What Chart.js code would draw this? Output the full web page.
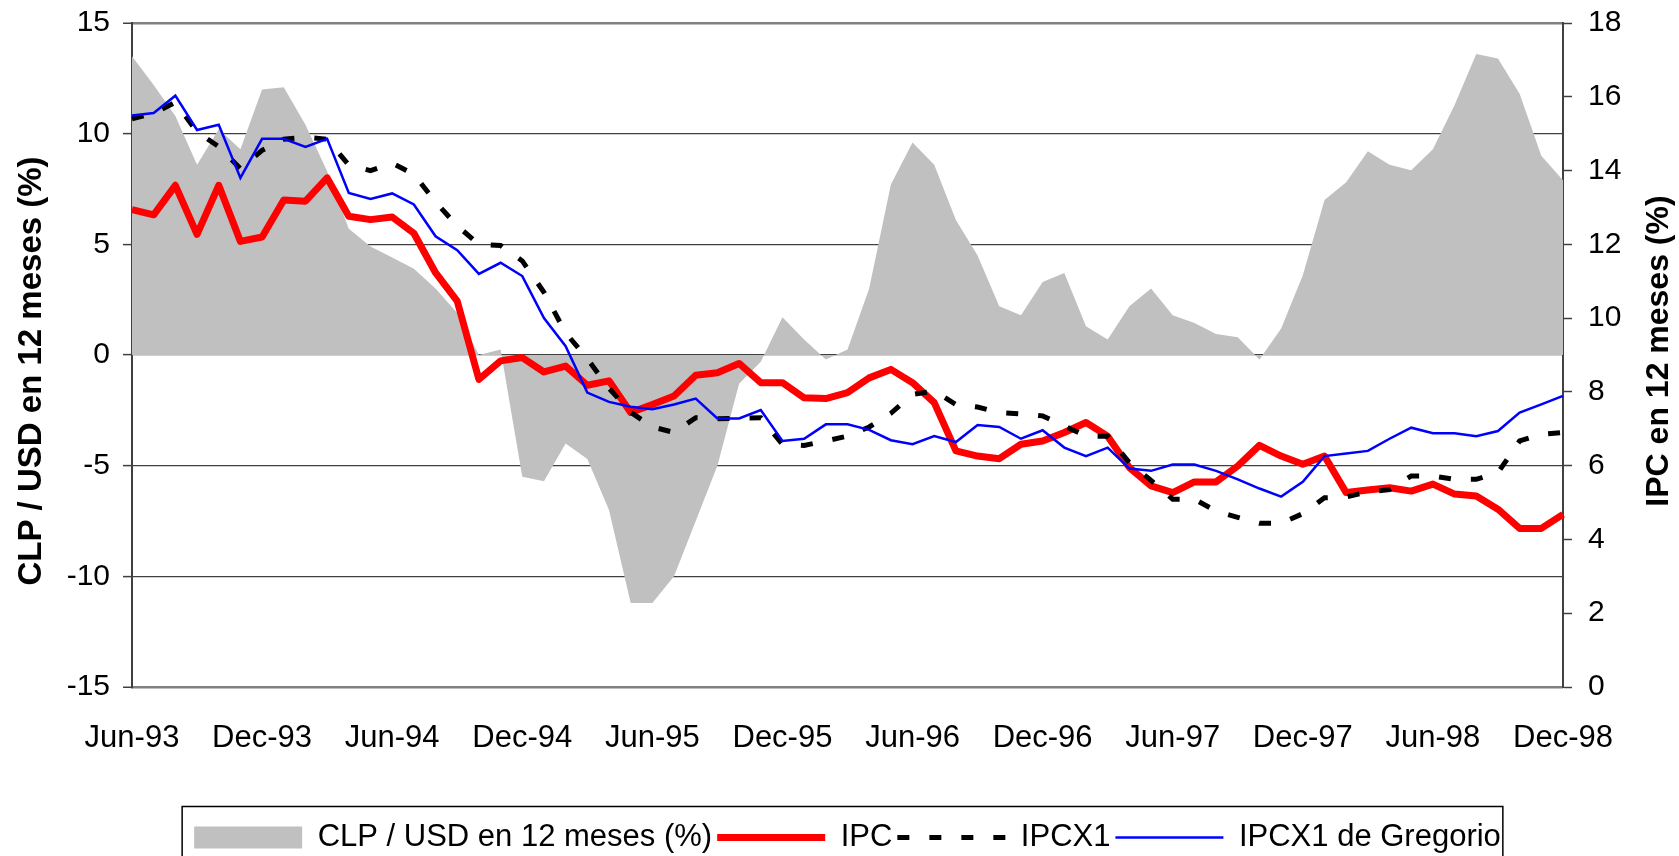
<!DOCTYPE html>
<html>
<head>
<meta charset="utf-8">
<script src="https://cdn.jsdelivr.net/npm/chart.js@4.4.1/dist/chart.umd.min.js"></script>
<style>
  html, body { margin: 0; padding: 0; background: #fff; }
</style>
</head>
<body>
<canvas id="chart" width="1679" height="856"></canvas>
<script>
// meses (eje x)
const months = [
  'Jun-93', 'Jul-93', 'Aug-93', 'Sep-93', 'Oct-93', 'Nov-93', 'Dec-93',
  'Jan-94', 'Feb-94', 'Mar-94', 'Apr-94', 'May-94', 'Jun-94', 'Jul-94', 'Aug-94', 'Sep-94', 'Oct-94', 'Nov-94', 'Dec-94',
  'Jan-95', 'Feb-95', 'Mar-95', 'Apr-95', 'May-95', 'Jun-95', 'Jul-95', 'Aug-95', 'Sep-95', 'Oct-95', 'Nov-95', 'Dec-95',
  'Jan-96', 'Feb-96', 'Mar-96', 'Apr-96', 'May-96', 'Jun-96', 'Jul-96', 'Aug-96', 'Sep-96', 'Oct-96', 'Nov-96', 'Dec-96',
  'Jan-97', 'Feb-97', 'Mar-97', 'Apr-97', 'May-97', 'Jun-97', 'Jul-97', 'Aug-97', 'Sep-97', 'Oct-97', 'Nov-97', 'Dec-97',
  'Jan-98', 'Feb-98', 'Mar-98', 'Apr-98', 'May-98', 'Jun-98', 'Jul-98', 'Aug-98', 'Sep-98', 'Oct-98', 'Nov-98', 'Dec-98'
];
const tickLabels = ['Jun-93', 'Dec-93', 'Jun-94', 'Dec-94', 'Jun-95', 'Dec-95', 'Jun-96', 'Dec-96', 'Jun-97', 'Dec-97', 'Jun-98', 'Dec-98'];

// CLP / USD, eje izquierdo
const clpUsd = [
  13.5, 12.2, 10.8, 8.6, 10.2, 9.3, 12.0, 12.1, 10.4, 8.3,
  5.7, 4.9, 4.4, 3.9, 3.0, 1.9, 0.0, 0.25, -5.5, -5.7,
  -4.0, -4.7, -7.0, -11.2, -11.2, -10.0, -7.5, -5.0, -1.3, -0.3,
  1.7, 0.7, -0.2, 0.25, 3.0, 7.7, 9.6, 8.6, 6.1, 4.5,
  2.2, 1.8, 3.3, 3.7, 1.3, 0.7, 2.2, 3.0, 1.8, 1.45,
  0.95, 0.8, -0.2, 1.2, 3.6, 7.0, 7.8, 9.2, 8.6, 8.35,
  9.3, 11.3, 13.6, 13.4, 11.8, 9.0, 7.9
];

// inflacion, eje derecho
const ipc = [
  12.94, 12.8, 13.6, 12.27, 13.6, 12.08, 12.2, 13.2, 13.17, 13.8,
  12.76, 12.67, 12.74, 12.3, 11.23, 10.46, 8.34, 8.84, 8.93, 8.54,
  8.7, 8.18, 8.3, 7.44, 7.66, 7.89, 8.45, 8.52, 8.77, 8.25,
  8.25, 7.84, 7.82, 7.98, 8.38, 8.61, 8.25, 7.71, 6.4, 6.26,
  6.19, 6.58, 6.67, 6.9, 7.17, 6.8, 5.95, 5.45, 5.27, 5.56,
  5.56, 5.99, 6.55, 6.26, 6.04, 6.26, 5.27, 5.34, 5.4, 5.31,
  5.5, 5.23, 5.18, 4.82, 4.3, 4.3, 4.68
];
const ipcx1 = [
  15.4, 15.55, 15.85, 15.05, 14.65, 14.05, 14.55, 14.85, 14.9, 14.85,
  14.15, 14.0, 14.2, 13.9, 13.15, 12.5, 12.0, 11.97, 11.55, 10.7,
  9.6, 8.9, 8.1, 7.45, 7.05, 6.9, 7.3, 7.27, 7.28, 7.3,
  6.58, 6.55, 6.67, 6.8, 7.05, 7.42, 7.93, 8.02, 7.66, 7.59,
  7.44, 7.4, 7.35, 7.08, 6.8, 6.8, 6.08, 5.6, 5.09, 5.09,
  4.77, 4.6, 4.44, 4.44, 4.7, 5.13, 5.15, 5.29, 5.35, 5.72,
  5.72, 5.63, 5.63, 5.81, 6.67, 6.85, 6.9
];
const ipcx1Gregorio = [
  15.49, 15.56, 16.03, 15.1, 15.24, 13.8, 14.86, 14.86, 14.64, 14.86,
  13.39, 13.23, 13.38, 13.08, 12.22, 11.84, 11.2, 11.5, 11.14, 10.0,
  9.24, 7.98, 7.73, 7.6, 7.53, 7.66, 7.82, 7.28, 7.28, 7.51,
  6.67, 6.73, 7.12, 7.12, 6.97, 6.69, 6.58, 6.8, 6.64, 7.1,
  7.05, 6.73, 6.96, 6.49, 6.26, 6.49, 5.92, 5.86, 6.03, 6.03,
  5.86, 5.63, 5.38, 5.16, 5.56, 6.26, 6.33, 6.4, 6.73, 7.03,
  6.88, 6.88, 6.8, 6.94, 7.44, 7.66, 7.89
];

const FONT = "'Liberation Sans', Arial, sans-serif";
Chart.defaults.font.family = FONT;
Chart.defaults.color = '#000';

// titulos de ejes (ambos leidos de abajo hacia arriba) y marco de la leyenda
const extras = {
  id: 'extras',
  afterDraw(chart) {
    const ctx = chart.ctx;
    const area = chart.chartArea;
    const midY = (area.top + area.bottom) / 2;
    ctx.save();
    ctx.fillStyle = '#000';
    ctx.textAlign = 'center';
    ctx.textBaseline = 'middle';

    ctx.save();
    ctx.font = 'bold 33px ' + FONT;
    ctx.translate(chart.scales.y.left + 32, midY + 16);
    ctx.rotate(-Math.PI / 2);
    ctx.fillText('CLP / USD en 12 meses (%)', 0, 0);
    ctx.restore();

    ctx.save();
    ctx.font = 'bold 32px ' + FONT;
    ctx.translate(chart.scales.y1.right - 20, midY - 4);
    ctx.rotate(-Math.PI / 2);
    ctx.fillText('IPC en 12 meses (%)', 0, 0);
    ctx.restore();

    const hb = chart.legend.legendHitBoxes;
    if (hb && hb.length) {
      const first = hb[0], last = hb[hb.length - 1];
      const cy = first.top + first.height / 2;
      const x0 = first.left - 12;
      const x1 = last.left + last.width + 2;
      ctx.strokeStyle = '#000';
      ctx.lineWidth = 1.5;
      ctx.strokeRect(x0, cy - 31, x1 - x0, 80);
    }
    ctx.restore();
  }
};

const gridColor = c => (c.tick && Math.abs(c.tick.value) === 15) ? '#808080' : '#404040';
const gridWidth = c => (c.tick && Math.abs(c.tick.value) === 15) ? 2.5 : 1.2;

new Chart(document.getElementById('chart').getContext('2d'), {
  type: 'line',
  data: {
    labels: months,
    datasets: [
      {
        label: 'CLP / USD en 12 meses (%)',
        data: clpUsd,
        yAxisID: 'y',
        fill: 'origin',
        backgroundColor: '#C0C0C0',
        borderColor: '#C0C0C0',
        borderWidth: 0,
        pointRadius: 0,
        tension: 0,
        order: 4
      },
      {
        label: 'IPC',
        data: ipc,
        yAxisID: 'y1',
        fill: false,
        borderColor: '#FF0000',
        borderWidth: 7,
        borderJoinStyle: 'round',
        pointRadius: 0,
        tension: 0,
        order: 3
      },
      {
        label: 'IPCX1',
        data: ipcx1,
        yAxisID: 'y1',
        fill: false,
        borderColor: '#000000',
        borderWidth: 5,
        borderDash: [12, 20],
        pointRadius: 0,
        tension: 0,
        order: 2
      },
      {
        label: 'IPCX1 de Gregorio',
        data: ipcx1Gregorio,
        yAxisID: 'y1',
        fill: false,
        borderColor: '#0000FF',
        borderWidth: 2.5,
        pointRadius: 0,
        tension: 0,
        order: 1
      }
    ]
  },
  options: {
    responsive: false,
    animation: false,
    layout: { padding: { top: 23, left: 0, right: 0, bottom: -7 } },
    plugins: {
      tooltip: { enabled: false },
      legend: {
        position: 'bottom',
        align: 'center',
        fullSize: false,
        labels: {
          usePointStyle: true,
          pointStyleWidth: 108,
          boxHeight: 22,
          padding: 5,
          color: '#000',
          font: { size: 31, family: FONT },
          generateLabels(chart) {
            return chart.data.datasets.map((ds, i) => ({
              text: ds.label,
              datasetIndex: i,
              hidden: false,
              fontColor: '#000',
              fillStyle: ds.fill ? ds.backgroundColor : 'rgba(0,0,0,0)',
              strokeStyle: ds.borderColor,
              lineWidth: ds.fill ? 0 : ds.borderWidth,
              lineDash: ds.borderDash || [],
              pointStyle: ds.fill ? 'rect' : 'line'
            }));
          }
        }
      }
    },
    scales: {
      x: {
        type: 'category',
        offset: false,
        grid: { display: false, drawTicks: false },
        border: { display: false },
        ticks: {
          autoSkip: false,
          maxRotation: 0,
          minRotation: 0,
          padding: 33,
          font: { size: 31 },
          color: '#000',
          callback: (val, idx) => tickLabels.includes(months[idx]) ? months[idx] : ''
        },
        afterFit: s => { s.height = 130; }
      },
      y: {
        position: 'left',
        min: -15,
        max: 15,
        ticks: { stepSize: 5, padding: 13, font: { size: 30, lineHeight: 0.4 }, color: '#000' },
        grid: {
          color: gridColor,
          lineWidth: gridWidth,
          drawTicks: true,
          tickLength: 9,
          tickColor: '#404040',
          tickWidth: 1.5
        },
        border: { display: true, color: '#404040', width: 2 },
        afterFit: s => { s.width = 132; }
      },
      y1: {
        position: 'right',
        min: 0,
        max: 18,
        ticks: { stepSize: 2, padding: 16, font: { size: 30, lineHeight: 0.4 }, color: '#000' },
        grid: {
          drawOnChartArea: false,
          drawTicks: true,
          tickLength: 9,
          tickColor: '#404040',
          tickWidth: 1.5
        },
        border: { display: true, color: '#404040', width: 2 },
        afterFit: s => { s.width = 116; }
      }
    }
  },
  plugins: [extras]
});
</script>
</body>
</html>
